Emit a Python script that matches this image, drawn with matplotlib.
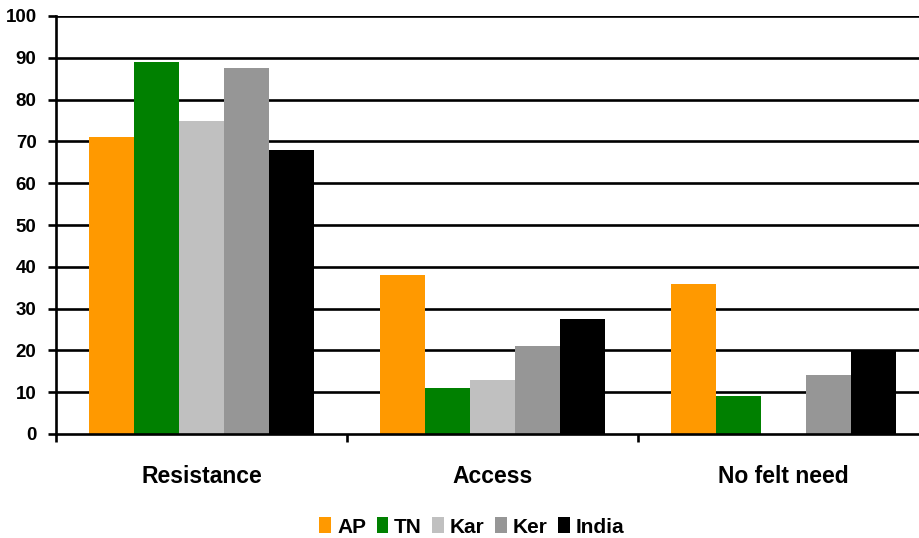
import matplotlib
matplotlib.use("Agg")
import matplotlib.pyplot as plt
import numpy as np
from matplotlib.patches import Patch

categories = ["Resistance", "Access", "No felt need"]
series = ["AP", "TN", "Kar", "Ker", "India"]
ap = [71, 38, 36]
tn = [89, 11, 9]
kar = [75, 13, 0]
ker = [87.5, 21, 14]
india = [68, 27.5, 20]
y_ticks = [0, 10, 20, 30, 40, 50, 60, 70, 80, 90, 100]

colors = ["#FF9900", "#008000", "#C0C0C0", "#969696", "#000000"]
values = [ap, tn, kar, ker, india]

plt.rcParams["font.family"] = ["Liberation Sans", "DejaVu Sans"]
plt.rcParams["font.weight"] = "bold"

W, H = 920, 538
fig = plt.figure(figsize=(W / 100, H / 100), dpi=100)
ax = fig.add_axes([56 / W, (H - 434) / H, (929 - 56) / W, (434 - 16) / H])

x = np.arange(len(categories))
bw = 0.1546
n = len(series)
for i, (name, vals, c) in enumerate(zip(series, values, colors)):
    ax.bar(x + (i - (n - 1) / 2) * bw, vals, width=bw, color=c,
           edgecolor="none", zorder=3, label=name)

ax.set_xlim(-0.5, len(categories) - 0.5)
ax.set_ylim(0, 100)
ax.set_yticks(y_ticks)
ax.set_yticklabels([str(t) for t in y_ticks], fontsize=13.5, fontweight="bold")
for t in y_ticks[1:]:
    ax.axhline(t, color="black", lw=1.9, zorder=1)

ax.set_xticks(x)
ax.set_xticklabels(categories, fontsize=16.5, fontweight="bold")
ax.set_xticks(np.arange(-0.5, len(categories), 1.0), minor=True)
ax.tick_params(axis="x", which="major", length=0, pad=22)
ax.tick_params(axis="x", which="minor", length=6, width=1.9, direction="out")
ax.tick_params(axis="y", length=6, width=1.9, direction="out", pad=8)

for s in ["top", "right"]:
    ax.spines[s].set_visible(False)
for s in ["left", "bottom"]:
    ax.spines[s].set_linewidth(1.9)
    ax.spines[s].set_zorder(4)

handles = [Patch(facecolor=c, edgecolor="none") for c in colors]
fig.legend(handles, series, loc="center", bbox_to_anchor=(472 / W, 1 - 527 / H),
           ncol=5, frameon=False, prop={"size": 15, "weight": "bold"},
           handlelength=0.55, handleheight=0.8, handletextpad=0.3,
           columnspacing=0.5, borderaxespad=0)

fig.savefig("out.png", dpi=100)
